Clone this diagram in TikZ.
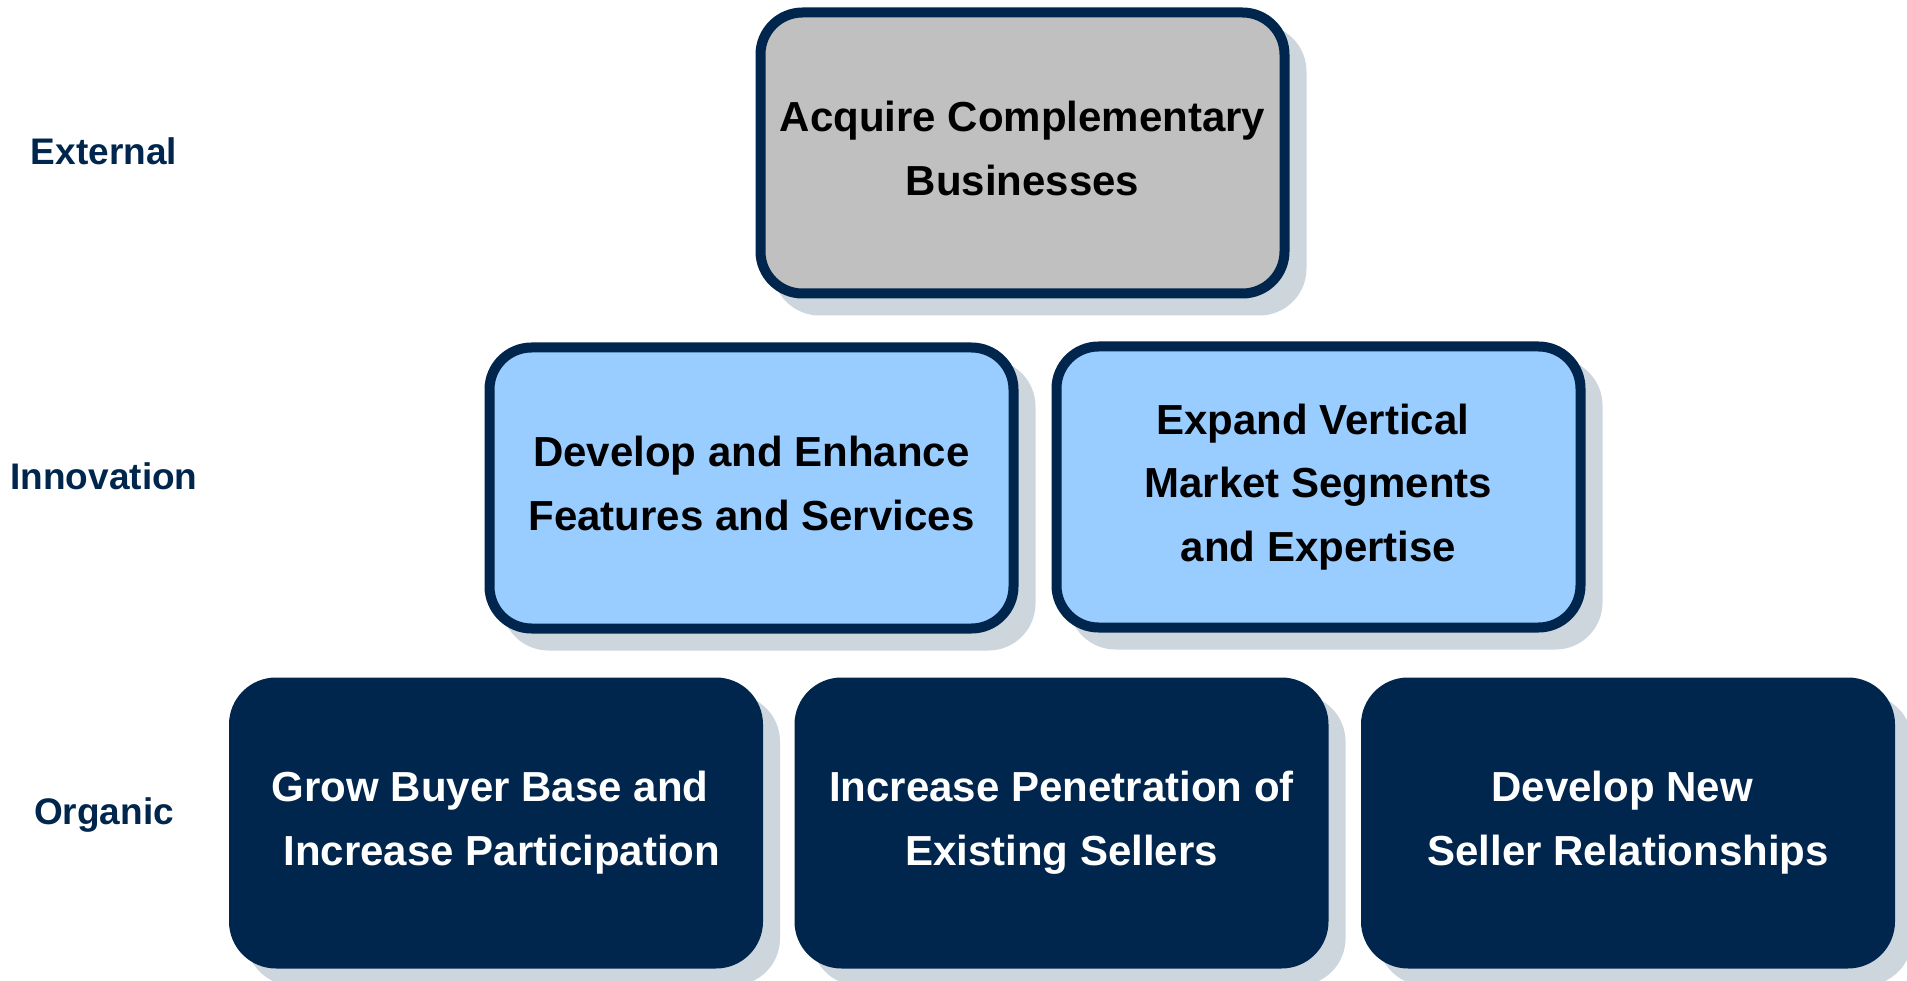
\documentclass[tikz,border=0pt]{standalone}
\usepackage{fontspec}
\setmainfont{Liberation Sans}
\usetikzlibrary{shadows}
\definecolor{navy}{RGB}{0,38,77}
\definecolor{lblue}{RGB}{153,204,255}
\definecolor{boxgray}{RGB}{192,192,192}
\definecolor{shadowc}{RGB}{205,213,221}
\newcommand{\spc}{\hspace*{11.7pt}}
\begin{document}
\begin{tikzpicture}[x=1pt,y={(0,-1pt)},
  tierbox/.style={rectangle, rounded corners=42pt, draw=navy, line width=10pt,
    minimum width=524pt, minimum height=281pt, inner sep=0pt, align=center,
    text depth=9pt,
    font=\bfseries\fontsize{42}{63.5}\selectfont,
    general shadow={shadow xshift=17pt, shadow yshift=-17pt, draw=shadowc, fill=shadowc, line width=10pt}},
  graybox/.style={tierbox, fill=boxgray, text=black},
  bluebox/.style={tierbox, fill=lblue, text=black},
  navybox/.style={tierbox, fill=navy, text=white},
  tierlabel/.style={font=\bfseries\fontsize{37}{44}\selectfont, text=navy, inner sep=0pt}]
\useasboundingbox (0,0) rectangle (1907,981);
\node[graybox] (acq) at (1022.5,153) {Acquire Complementary\\Businesses};
\node[bluebox] (dev) at (751.5,488) {Develop and Enhance\\Features and Services};
\node[bluebox] (exp) at (1318.5,487) {Expand Vertical\spc\\Market Segments\spc\\and Expertise};
\node[navybox] (grow) at (496,823) {Grow Buyer Base and\spc\\\spc Increase Participation};
\node[navybox] (pen) at (1061.5,823) {Increase Penetration of\\Existing Sellers};
\node[navybox] (new) at (1628,823) {Develop New\spc\\Seller Relationships};
\node[tierlabel] (lext) at (104,151) {External};
\node[tierlabel] (linn) at (104,476) {Innovation};
\node[tierlabel] (lorg) at (104,815) {Organic};
\end{tikzpicture}
\end{document}
